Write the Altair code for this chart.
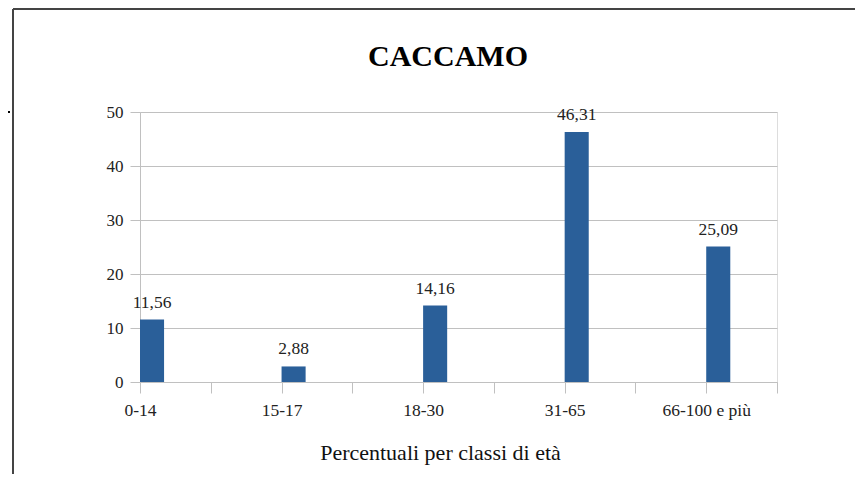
import altair as alt
import pandas as pd

title_text = "CACCAMO"
axis_title = "Percentuali per classi di età"
categories = ["0-14", "15-17", "18-30", "31-65", "66-100 e più"]
values = [11.56, 2.88, 14.16, 46.31, 25.09]
value_labels = ["11,56", "2,88", "14,16", "46,31", "25,09"]
y_ticks = [0, 10, 20, 30, 40, 50]

df = pd.DataFrame({
    "cat": categories,
    "val": values,
    "lab": value_labels,
    "pos": [2 * i for i in range(len(categories))],
})
df["pos2"] = df["pos"] + 0.34
df["mid"] = df["pos"] + 0.17

label_map = {str(2 * i): c for i, c in enumerate(categories)}
expr = " : ".join([f"datum.value == {k} ? '{v}'" for k, v in label_map.items()]) + " : ''"

FONT = "Liberation Serif"
GRID = "#c0c0c0"

xscale = alt.Scale(domain=[0, 9], nice=False, zero=False)
yscale = alt.Scale(domain=[0, 50], nice=False)

bars = alt.Chart(df).mark_bar(color="#2a5f99").encode(
    x=alt.X("pos:Q", scale=xscale,
            axis=alt.Axis(values=list(range(10)), labelExpr=expr, grid=False,
                          title=axis_title, titleFont=FONT,
                          titleFontSize=22, titleFontWeight="normal", titleColor="#111",
                          titlePadding=24, titleX=300, titleAlign="center",
                          labelFont=FONT, labelFontSize=17.5, labelColor="#222",
                          labelPadding=8, tickSize=11, tickColor=GRID,
                          domainColor=GRID, labelFlush=False, labelOverlap=False)),
    x2="pos2:Q",
    y=alt.Y("val:Q", scale=yscale,
            axis=alt.Axis(values=y_ticks, title=None, grid=True,
                          gridColor=GRID, domainColor=GRID, tickColor=GRID,
                          tickSize=10, labelFont=FONT, labelFontSize=17,
                          labelColor="#222", labelPadding=7)),
    y2=alt.datum(0),
)

text = alt.Chart(df).mark_text(font=FONT, fontSize=17.5, color="#222",
                               baseline="alphabetic", dy=-12).encode(
    x="mid:Q", y="val:Q", text="lab:N")

title = alt.Chart(pd.DataFrame({"t": [title_text]})).mark_text(
    font=FONT, fontSize=30, fontWeight="bold", color="#000",
    baseline="alphabetic", align="center").encode(
    x=alt.value(308), y=alt.value(-46), text="t:N")

top_line = alt.Chart(df).mark_rule(color="#444", strokeWidth=2).encode(
    x=alt.value(-127), x2=alt.value(780), y=alt.value(-103))
left_line = alt.Chart(df).mark_rule(color="#444", strokeWidth=2).encode(
    x=alt.value(-127), y=alt.value(-103), y2=alt.value(420))
dash = alt.Chart(df).mark_rule(color="#000", strokeWidth=2).encode(
    x=alt.value(-140), x2=alt.value(-130), y=alt.value(0))

chart = alt.layer(bars, text, title, top_line, left_line, dash).properties(
    width=637, height=270,
    padding={"left": 132, "top": 104, "right": 78, "bottom": 92},
    autosize=alt.AutoSizeParams(type="none"),
).configure_view(stroke=GRID, strokeWidth=1).configure(background="white")

chart.save("out.html", embed_options={"renderer": "svg", "actions": False})
